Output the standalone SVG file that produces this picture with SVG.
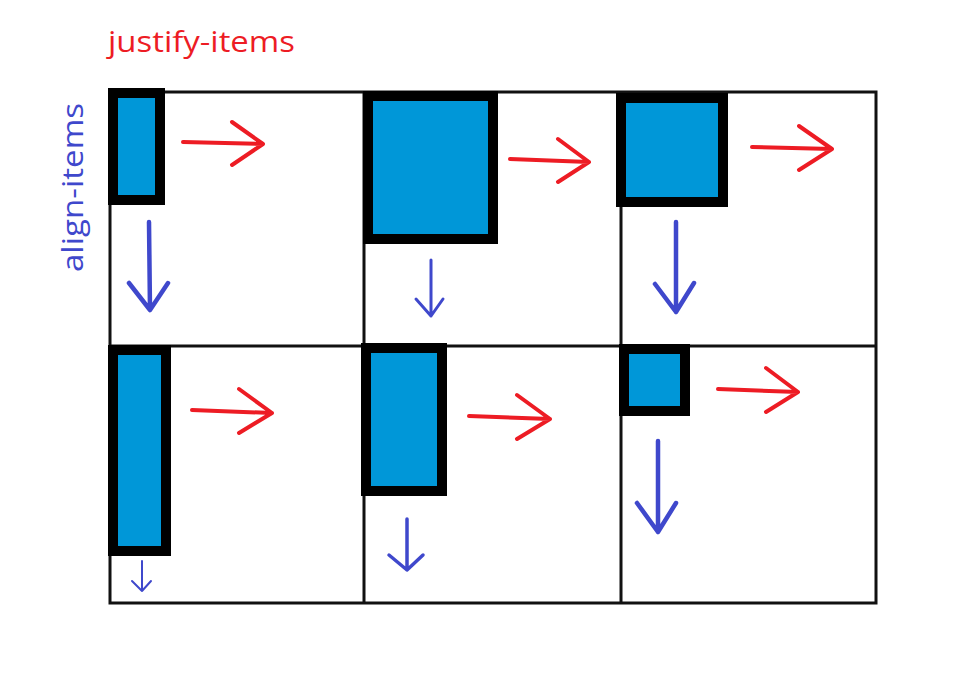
<svg xmlns="http://www.w3.org/2000/svg" width="970" height="689" viewBox="0 0 970 689">
<style>
.grid{fill:none;stroke:#111;stroke-width:3}
.item{fill:#0097d8;stroke:#000;stroke-width:10}
.ra{fill:none;stroke:#ed1c24;stroke-width:4;stroke-linecap:round;stroke-linejoin:round}
.ba{fill:none;stroke:#3f48cc;stroke-linecap:round;stroke-linejoin:round}
.lbl{font-family:"Open Sans","Noto Sans","Liberation Sans",sans-serif;font-size:30px}
</style>
<rect width="970" height="689" fill="#fff"/>
<text class="lbl" x="108" y="52" fill="#ed1c24" textLength="187" lengthAdjust="spacingAndGlyphs">justify-items</text>
<text class="lbl" transform="translate(83,272) rotate(-90)" fill="#3f48cc" textLength="169" lengthAdjust="spacingAndGlyphs">align-items</text>
<g id="grid">
<rect class="grid" x="110" y="92" width="766" height="511"/>
<line class="grid" x1="364" y1="92" x2="364" y2="603"/>
<line class="grid" x1="621" y1="92" x2="621" y2="603"/>
<line class="grid" x1="110" y1="346" x2="876" y2="346"/>
</g>
<g id="item1"><rect class="item" x="113" y="93" width="47" height="107"/></g>
<g id="item2"><rect class="item" x="368" y="96" width="125" height="143"/></g>
<g id="item3"><rect class="item" x="621" y="98" width="102" height="104"/></g>
<g id="item4"><rect class="item" x="113" y="350" width="53" height="201"/></g>
<g id="item5"><rect class="item" x="366" y="348" width="76" height="143"/></g>
<g id="item6"><rect class="item" x="624" y="349" width="61" height="62"/></g>
<g id="arrows">
<path class="ra" d="M183,142 L263,144 M232,122 L263,144 L232,165"/>
<path class="ra" d="M510,159 L589,162 M558,139 L589,162 L558,182"/>
<path class="ra" d="M752,147 L832,149 M799,126 L832,149 L799,170"/>
<path class="ra" d="M192,410 L272,413 M239,389 L272,413 L239,433"/>
<path class="ra" d="M469,416 L550,419 M517,395 L550,419 L517,439"/>
<path class="ra" d="M718,389 L798,392 M766,368 L798,392 L766,412"/>
<path class="ba" stroke-width="4.5" d="M149,222 L150,310 M129,283 L150,310 L168,283"/>
<path class="ba" stroke-width="3" d="M431,260 L431,316 M416,299 L431,316 L443,299"/>
<path class="ba" stroke-width="4.5" d="M676,222 L676,312 M655,284 L676,312 L694,283"/>
<path class="ba" stroke-width="2" d="M142,561 L142,591 M132,581 L142,591 L151,581"/>
<path class="ba" stroke-width="3.5" d="M407,519 L407,570 M389,555 L407,570 L423,555"/>
<path class="ba" stroke-width="4.5" d="M658,441 L658,532 M637,503 L658,532 L676,503"/>
</g>
</svg>
